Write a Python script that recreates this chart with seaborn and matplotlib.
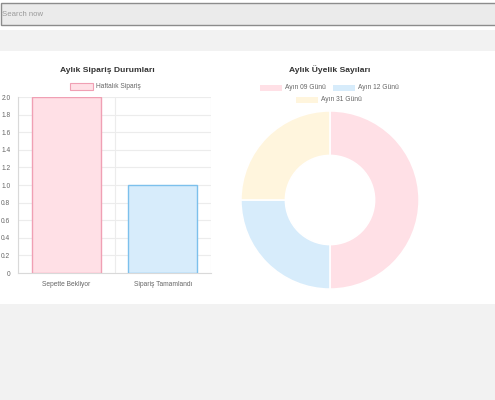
import matplotlib
matplotlib.use("Agg")
import matplotlib.pyplot as plt
import seaborn as sns
import pandas as pd
from matplotlib.patches import Rectangle

sns.set_theme(style="white")
plt.rcParams['font.family'] = ['Liberation Sans', 'DejaVu Sans']

# ---- data ----
bar_categories = ["Sepette Bekliyor", "Sipariş Tamamlandı"]
bar_values = [2, 1]
bar_series_label = "Haftalık Sipariş"
bar_title = "Aylık Sipariş Durumları"
y_ticks = [0, 0.2, 0.4, 0.6, 0.8, 1.0, 1.2, 1.4, 1.6, 1.8, 2.0]
y_tick_labels = ["0", "0.2", "0.4", "0.6", "0.8", "1.0", "1.2", "1.4", "1.6", "1.8", "2.0"]

donut_labels = ["Ayın 09 Günü", "Ayın 12 Günü", "Ayın 31 Günü"]
donut_values = [2, 1, 1]
donut_title = "Aylık Üyelik Sayıları"

search_placeholder = "Search now"

# ---- styles ----
bar_fill = ["#ffe0e6", "#d7ecfb"]
bar_edge = ["#f0a0b4", "#7cc0ec"]
donut_fill = ["#ffe0e6", "#d7ecfb", "#fff5dd"]

W, H = 495, 400
fig = plt.figure(figsize=(W / 100, H / 100), dpi=100)
fig.patch.set_facecolor("#f2f2f2")


def px_rect(x0, y0, x1, y1):
    return [x0 / W, 1 - y1 / H, (x1 - x0) / W, (y1 - y0) / H]


def fx(x):
    return x / W


def fy(y):
    return 1 - y / H


# top white strip + search box
fig.patches.append(Rectangle((0, fy(30)), 1, 30 / H, transform=fig.transFigure,
                             facecolor="white", edgecolor="none", zorder=-3))
fig.patches.append(Rectangle((fx(1), fy(25)), 1.0, 22 / H, transform=fig.transFigure,
                             facecolor="#ebebeb", edgecolor="#8c8c8c", linewidth=1.0, zorder=-2))
fig.text(fx(2), fy(14.5), search_placeholder, fontsize=5.6, color="#9a9a9a",
         va="center", ha="left")

# white panel
fig.patches.append(Rectangle((0, fy(304)), 1, (304 - 51) / H, transform=fig.transFigure,
                             facecolor="white", edgecolor="none", zorder=-3))

# ---- bar chart ----
ax = fig.add_axes(px_rect(18, 97, 211, 273))
ax.set_zorder(2)
df = pd.DataFrame({"cat": bar_categories, "val": bar_values})
sns.barplot(data=df, x="cat", y="val", hue="cat", palette=bar_fill, legend=False,
            width=0.72, saturation=1, ax=ax, zorder=3)
for p, ec in zip(ax.patches, bar_edge):
    p.set_edgecolor(ec)
    p.set_linewidth(1.0)
ax.set_facecolor("white")
ax.set_xlim(-0.5, 1.5)
ax.set_ylim(0, 2)
ax.set_yticks(y_ticks)
ax.set_yticklabels(y_tick_labels)
ax.set_xlabel("")
ax.set_ylabel("")
ax.set_xticks([0, 1])
ax.set_xticklabels(bar_categories)
ax.set_xticks([-0.5, 0.5, 1.5], minor=True)
ax.tick_params(axis="x", which="major", length=0, labelsize=4.8, labelcolor="#666666", pad=6)
ax.tick_params(axis="x", which="minor", length=4, color="#e4e4e4", width=0.8)
ax.tick_params(axis="y", length=4, color="#e4e4e4", width=0.8, labelsize=4.8,
               labelcolor="#666666", pad=1.5)
ax.grid(True, axis="y", which="major", color="#ececec", linewidth=0.8, zorder=0)
ax.grid(True, axis="x", which="minor", color="#ececec", linewidth=0.8, zorder=0)
ax.set_axisbelow(True)
for s in ["top", "right"]:
    ax.spines[s].set_visible(False)
for s in ["left", "bottom"]:
    ax.spines[s].set_visible(True)
    ax.spines[s].set_color("#d9d9d9")
    ax.spines[s].set_linewidth(0.8)

fig.text(fx(107), fy(70), bar_title, fontsize=6.1, fontweight="bold", color="#333333",
         ha="center", va="center")
fig.patches.append(Rectangle((fx(70), fy(90)), 23 / W, 7 / H, transform=fig.transFigure,
                             facecolor=bar_fill[0], edgecolor=bar_edge[0], linewidth=0.8, zorder=2))
fig.text(fx(96), fy(86.5), bar_series_label, fontsize=4.8, color="#666666",
         ha="left", va="center")

# ---- donut ----
ax2 = fig.add_axes(px_rect(240, 110, 420, 290))
ax2.set_zorder(2)
ax2.pie(donut_values, colors=donut_fill, startangle=90, counterclock=False, radius=1,
        wedgeprops=dict(width=0.5, edgecolor="white", linewidth=1.2))
ax2.set_aspect("equal")
ax2.set_xlim(-1.01, 1.01)
ax2.set_ylim(-1.01, 1.01)
ax2.axis("off")

fig.text(fx(330), fy(70), donut_title, fontsize=6.1, fontweight="bold", color="#333333",
         ha="center", va="center")
legend_pos = [(260, 87.5), (333, 87.5), (296, 99.5)]
for (lx, ly), lab, col in zip(legend_pos, donut_labels, donut_fill):
    fig.patches.append(Rectangle((fx(lx), fy(ly + 3)), 22 / W, 6 / H, transform=fig.transFigure,
                                 facecolor=col, edgecolor="none", zorder=2))
    fig.text(fx(lx + 25), fy(ly), lab, fontsize=4.8, color="#666666", ha="left", va="center")

fig.savefig("out.png", dpi=100, facecolor=fig.get_facecolor())
